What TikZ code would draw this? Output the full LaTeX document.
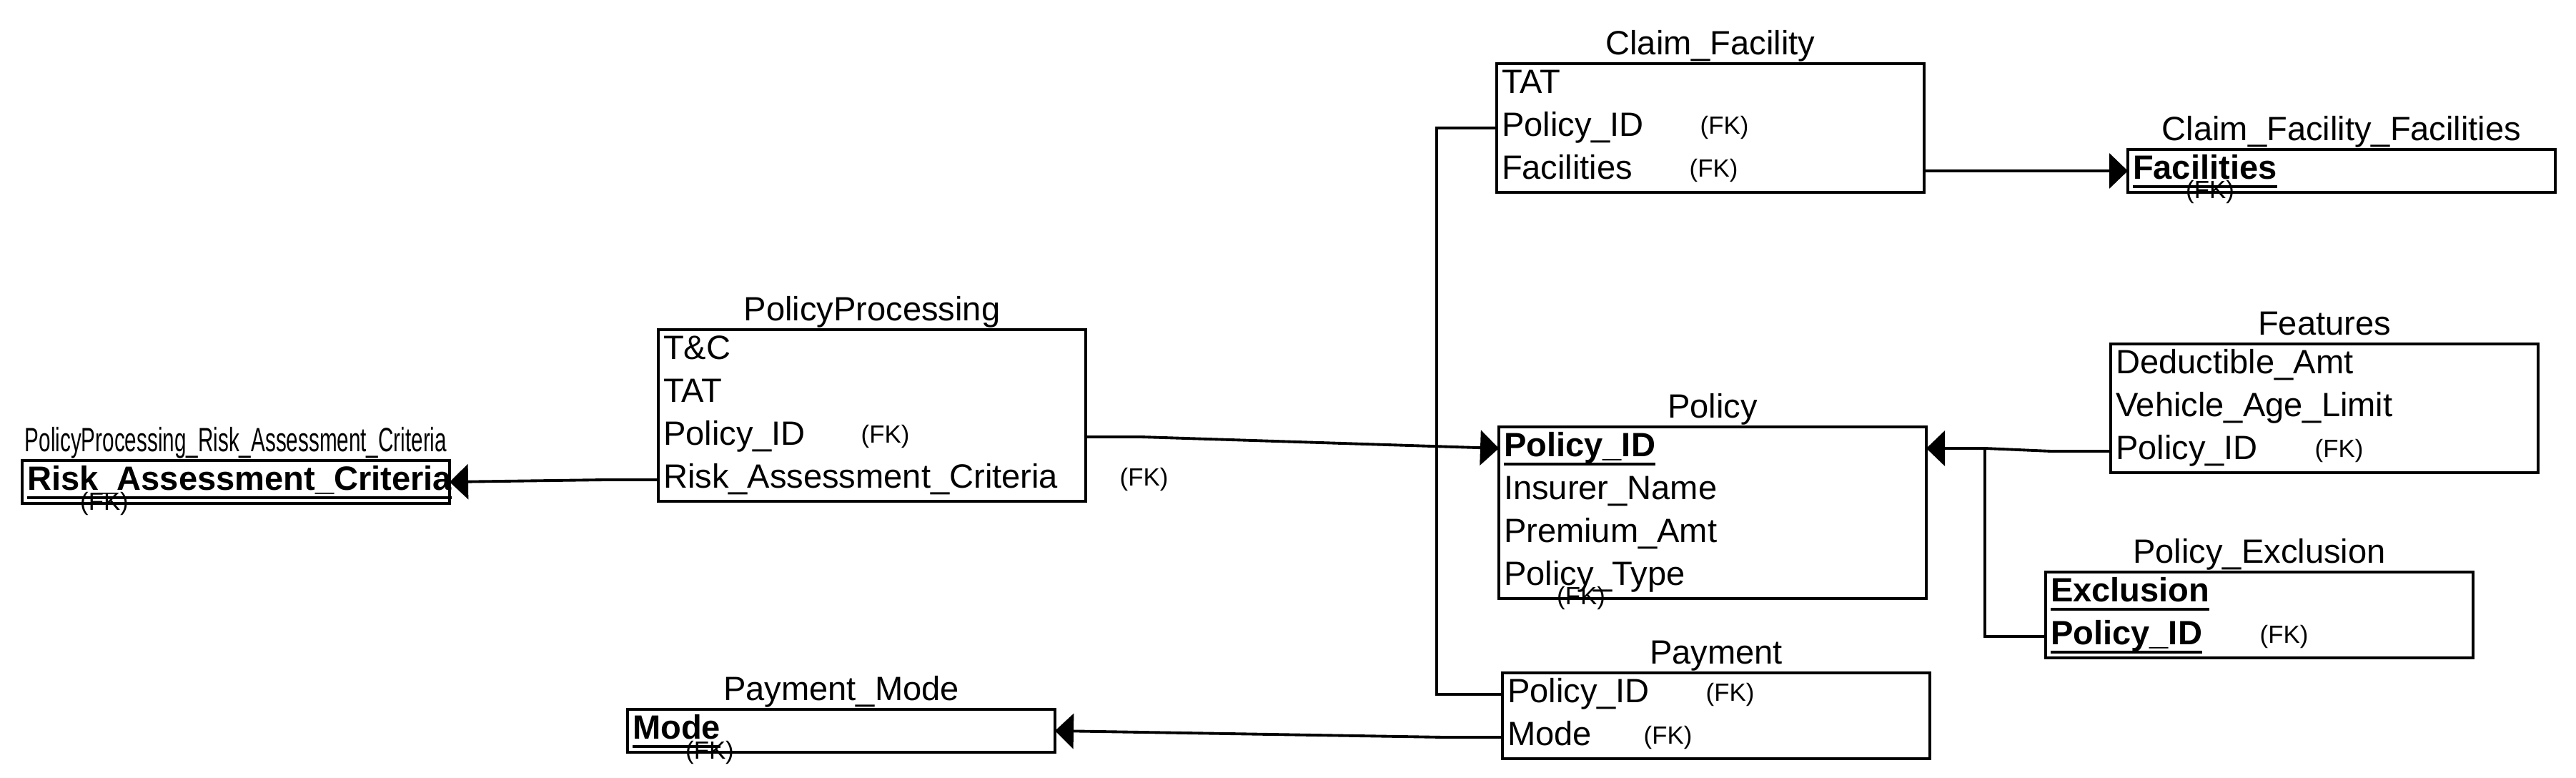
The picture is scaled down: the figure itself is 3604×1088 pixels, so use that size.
\documentclass[tikz,border=0pt]{standalone}
\usepackage{fontspec}
\setmainfont{Liberation Sans}
\usepackage{graphicx}
\usetikzlibrary{arrows, arrows.meta}
\usetikzlibrary{positioning}

\newcommand{\keyfield}[1]{\setbox0\hbox{\bfseries #1}\rlap{\rule[-1.2mm]{\wd0}{0.4mm}}\box0}

\begin{document}
\begin{tikzpicture}[x=0.1mm, y=-0.1mm,
        attr/.style={rectangle, inner xsep=0.7mm, inner ysep=0pt, outer sep=0pt, text width=58.4mm, align=left,
            minimum height=6mm, text height=3.4mm, text depth=1mm, font=\fontsize{13.4}{16}\selectfont},
        title/.style={inner sep=0pt, font=\fontsize{13.4}{16}\selectfont},
        fk/.style={inner sep=0pt, font=\fontsize{9.9}{12}\selectfont},
        box/.style={draw, line width=1.3pt},
        link/.style={line width=1.1pt},
        fkarrow/.style={-{Triangle[length=2.6mm, width=4.9mm]}}]
            \useasboundingbox (0,0) rectangle (3604,1088);

            \node[attr, anchor=north west] (cfTAT) at (2094,89) {TAT};
            \node[attr, below=0pt of cfTAT] (cfPolicy) {Policy\_ID};
            \node[attr, below=0pt of cfPolicy] (cfFac) {Facilities};
            \draw[box] (cfTAT.north west) rectangle (cfFac.south east);
            \node[title, above=1.2mm of cfTAT.north, anchor=base] (cfTitle) {Claim\_Facility};
            \node[fk, right=28.4mm of cfPolicy.west] (cfPolicyFK) {(FK)};
            \node[fk, right=26.9mm of cfFac.west] (cfFacFK) {(FK)};

            \node[attr, anchor=north west] (cffFac) at (2977,209) {\keyfield{Facilities}};
            \draw[box] (cffFac.north west) rectangle (cffFac.south east);
            \node[title, above=1.2mm of cffFac.north, anchor=base] (cffTitle) {Claim\_Facility\_Facilities};
            \node[fk] (cffFK) at ([xshift=11.5mm]cffFac.south west) {(FK)};

            \node[attr, anchor=north west] (ppTC) at (921,461) {T\&C};
            \node[attr, below=0pt of ppTC] (ppTAT) {TAT};
            \node[attr, below=0pt of ppTAT] (ppPolicy) {Policy\_ID};
            \node[attr, below=0pt of ppPolicy] (ppRisk) {Risk\_Assessment\_Criteria};
            \draw[box] (ppTC.north west) rectangle (ppRisk.south east);
            \node[title, above=1.2mm of ppTC.north, anchor=base] (ppTitle) {PolicyProcessing};
            \node[fk, right=28.3mm of ppPolicy.west] (ppPolicyFK) {(FK)};
            \node[fk, right=64.5mm of ppRisk.west] (ppRiskFK) {(FK)};

            \node[attr, anchor=north west] (pracRisk) at (31,644) {\keyfield{Risk\_Assessment\_Criteria}};
            \draw[box] (pracRisk.north west) rectangle (pracRisk.south east);
            \node[title, above=1.2mm of pracRisk.north, anchor=base] (pracTitle) {\scalebox{0.63}[1]{PolicyProcessing\_Risk\_Assessment\_Criteria}};
            \node[fk] (pracFK) at ([xshift=11.5mm]pracRisk.south west) {(FK)};

            \node[attr, anchor=north west] (pPolicyID) at (2097,597) {\keyfield{Policy\_ID}};
            \node[attr, below=0pt of pPolicyID] (pInsurer) {Insurer\_Name};
            \node[attr, below=0pt of pInsurer] (pPremium) {Premium\_Amt};
            \node[attr, below=0pt of pPremium] (pType) {Policy\_Type};
            \draw[box] (pPolicyID.north west) rectangle (pType.south east);
            \node[title, above=1.2mm of pPolicyID.north, anchor=base] (pTitle) {Policy};
            \node[fk] (pFK) at ([xshift=11.5mm]pType.south west) {(FK)};

            \node[attr, anchor=north west] (ftDeduct) at (2953,481) {Deductible\_Amt};
            \node[attr, below=0pt of ftDeduct] (ftAge) {Vehicle\_Age\_Limit};
            \node[attr, below=0pt of ftAge] (ftPolicy) {Policy\_ID};
            \draw[box] (ftDeduct.north west) rectangle (ftPolicy.south east);
            \node[title, above=1.2mm of ftDeduct.north, anchor=base] (ftTitle) {Features};
            \node[fk, right=28.5mm of ftPolicy.west] (ftPolicyFK) {(FK)};

            \node[attr, anchor=north west] (peExcl) at (2862,800) {\keyfield{Exclusion}};
            \node[attr, below=0pt of peExcl] (pePolicy) {\keyfield{Policy\_ID}};
            \draw[box] (peExcl.north west) rectangle (pePolicy.south east);
            \node[title, above=1.2mm of peExcl.north, anchor=base] (peTitle) {Policy\_Exclusion};
            \node[fk, right=29.9mm of pePolicy.west] (pePolicyFK) {(FK)};

            \node[attr, anchor=north west] (payPolicy) at (2102,941) {Policy\_ID};
            \node[attr, below=0pt of payPolicy] (payMode) {Mode};
            \draw[box] (payPolicy.north west) rectangle (payMode.south east);
            \node[title, above=1.2mm of payPolicy.north, anchor=base] (payTitle) {Payment};
            \node[fk, right=28.4mm of payPolicy.west] (payPolicyFK) {(FK)};
            \node[fk, right=19.7mm of payMode.west] (payModeFK) {(FK)};

            \node[attr, anchor=north west] (pmMode) at (878,992) {\keyfield{Mode}};
            \draw[box] (pmMode.north west) rectangle (pmMode.south east);
            \node[title, above=1.2mm of pmMode.north, anchor=base] (pmTitle) {Payment\_Mode};
            \node[fk] (pmFK) at ([xshift=11.5mm]pmMode.south west) {(FK)};

            \coordinate (jPolicy) at (2777,0);
            \draw[link, fkarrow] (ppPolicy.east) -- ++(77,0) -- (pPolicyID.west);
            \draw[link, fkarrow] (ppRisk.west) -- ++(-74,0) -- (pracRisk.east);
            \draw[link, fkarrow] (cfFac.east) -- (cffFac.west);
            \draw[link, fkarrow] (ftPolicy.west) -- ++(-84,0) -- (jPolicy |- pPolicyID.east) -- (pPolicyID.east);
            \draw[link] (pePolicy.west) -| (jPolicy |- pPolicyID.east);
            \draw[link] (cfPolicy.west) -- ++(-84,0) |- (payPolicy.west);
            \draw[link, fkarrow] (payMode.west) -- ++(-83,0) -- (pmMode.east);
\end{tikzpicture}
\end{document}
